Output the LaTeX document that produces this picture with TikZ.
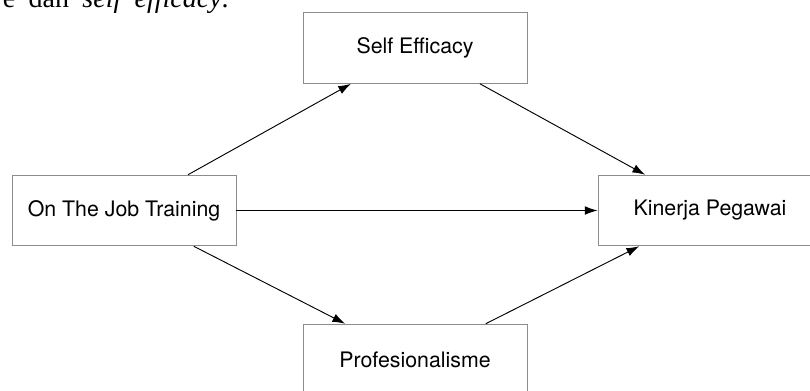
\documentclass[tikz,border=0pt]{standalone}
\usepackage{fontspec}
\setmainfont{TeX Gyre Heros}
\newfontfamily\parafont{Liberation Serif}
\usetikzlibrary{arrows.meta}

\begin{document}
\begin{tikzpicture}[x=0.75pt,y=-0.75pt,
        varbox/.style={rectangle,draw=black!45,line width=0.7pt,minimum width=168pt,minimum height=53pt,inner sep=0pt,font=\fontsize{16}{19}\selectfont},
        link/.style={-{Latex[length=9.5pt,width=6.5pt]},line width=0.7pt}]
    \useasboundingbox (0,0) rectangle (810,390);

    % Leftover line of the page text
    \node[anchor=base east,inner sep=0pt,font=\parafont\fontsize{21}{24}\selectfont] (txt) at (229,7) {\spaceskip=10pt e dan \textit{self efficacy}.};

    % Variables
    \node[varbox] (ojt) at (124,210.5) {On The Job Training};
    \node[varbox] (se) at (415,48) {Self Efficacy};
    \node[varbox] (prof) at (415,359.5) {Profesionalisme};
    \node[varbox] (kp) at (710,210.5) {Kinerja Pegawai};

    % Paths
    \draw[link] (ojt) -- (se);
    \draw[link] (ojt) -- (prof);
    \draw[link] (ojt) -- (kp);
    \draw[link] (se) -- (kp);
    \draw[link] (prof) -- (kp);

\end{tikzpicture}
\end{document}
